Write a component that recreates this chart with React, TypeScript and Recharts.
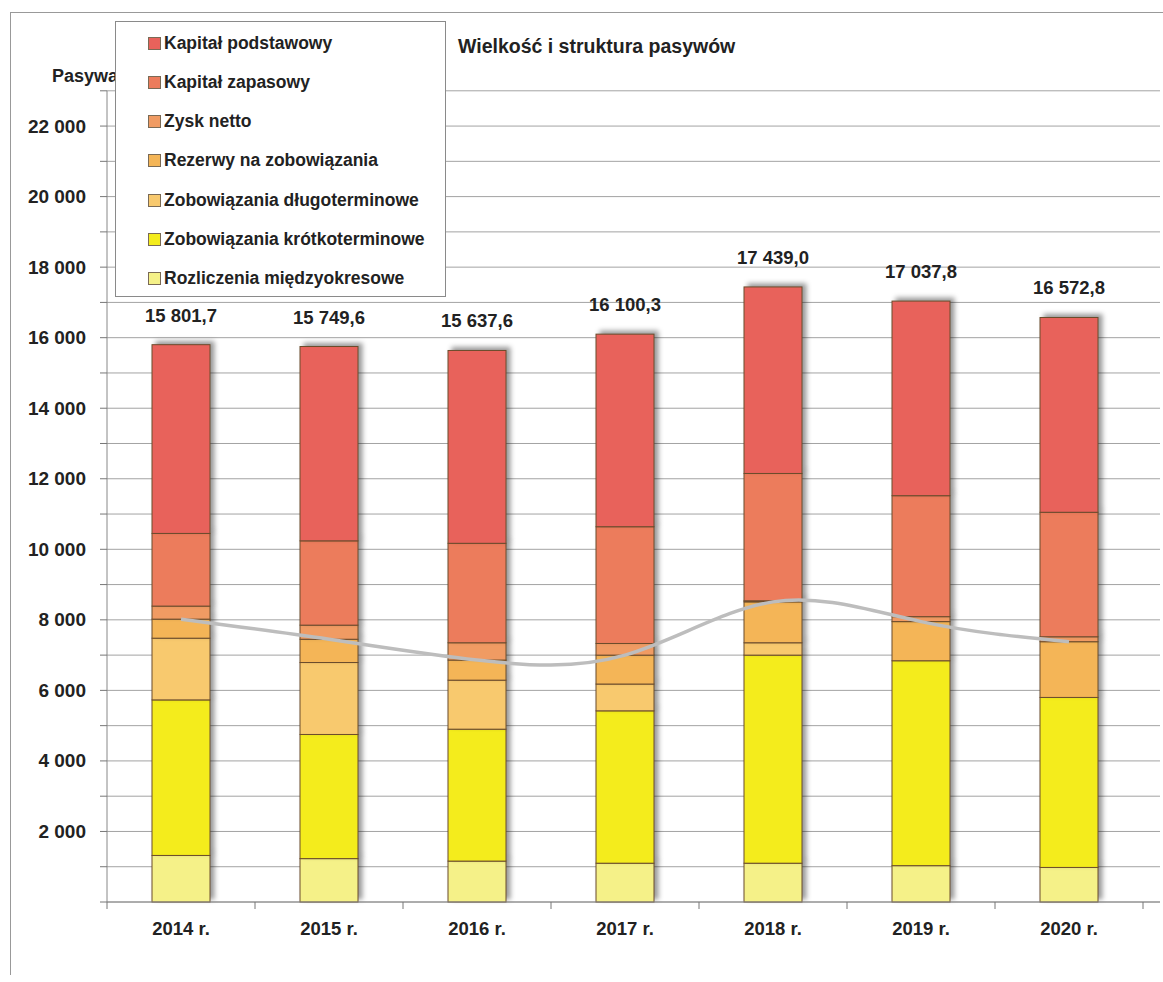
import React from 'react';
import { ComposedChart, Bar, Line, XAxis, YAxis, CartesianGrid, LabelList } from 'recharts';

const years = ['2014 r.', '2015 r.', '2016 r.', '2017 r.', '2018 r.', '2019 r.', '2020 r.'];

// series values
const rozliczenia = [1320, 1230, 1160, 1100, 1100, 1030, 980];
const zobKrotko = [4410, 3520, 3740, 4320, 5900, 5810, 4820];
const zobDlugo = [1750, 2040, 1390, 760, 350, 0, 0];
const rezerwy = [540, 660, 570, 820, 1160, 1110, 1580];
const zyskNetto = [370, 400, 490, 330, 30, 140, 140];
const kapitalZapasowy = [2060, 2390, 2820, 3310, 3610, 3430, 3530];
const kapitalPodstawowy = [5351.7, 5509.6, 5467.6, 5460.3, 5289.0, 5517.8, 5522.8];

const totals = [15801.7, 15749.6, 15637.6, 16100.3, 17439.0, 17037.8, 16572.8];
// gray smoothed line (zobowiązania i rezerwy razem)
const liabilitiesLine = [8020, 7450, 6860, 7000, 8510, 7950, 7380];

const yTicks = [0, 1000, 2000, 3000, 4000, 5000, 6000, 7000, 8000, 9000, 10000, 11000,
  12000, 13000, 14000, 15000, 16000, 17000, 18000, 19000, 20000, 21000, 22000, 23000];

const SERIES = [
  { key: 'rozliczenia', name: 'Rozliczenia międzyokresowe', color: '#f5f188', values: rozliczenia },
  { key: 'krotko', name: 'Zobowiązania krótkoterminowe', color: '#f4ec1c', values: zobKrotko },
  { key: 'dlugo', name: 'Zobowiązania długoterminowe', color: '#f8c96e', values: zobDlugo },
  { key: 'rezerwy', name: 'Rezerwy na zobowiązania', color: '#f4b557', values: rezerwy },
  { key: 'zysk', name: 'Zysk netto', color: '#f09b63', values: zyskNetto },
  { key: 'zapasowy', name: 'Kapitał zapasowy', color: '#ec7c5c', values: kapitalZapasowy },
  { key: 'podstawowy', name: 'Kapitał podstawowy', color: '#e8625b', values: kapitalPodstawowy },
];

const data = years.map((year, i) => {
  const row: Record<string, any> = { year, line: liabilitiesLine[i] };
  SERIES.forEach(s => { row[s.key] = s.values[i]; });
  return row;
});

const FONT = '"Liberation Sans", Arial, sans-serif';
const TEXT = '#222';
const HALF_BAND = 74;

const fmtThousands = (v: number) => String(v).replace(/\B(?=(\d{3})+(?!\d))/g, ' ');
const fmtTotal = (v: number) => {
  const [int, dec] = v.toFixed(1).split('.');
  return `${fmtThousands(Number(int))},${dec}`;
};

const ShadowRect = (props: any) => {
  const { x, y, width, height, fill } = props;
  if (!height || height <= 0) return null;
  return (
    <rect
      x={x}
      y={y}
      width={width}
      height={height}
      fill={fill}
      stroke="#6b4c2c"
      strokeWidth={1}
      style={{ filter: 'drop-shadow(4px -3px 2.5px rgba(0,0,0,0.4))' }}
    />
  );
};

const YTick = ({ x, y, payload }: any) => {
  const v = payload.value;
  const showLabel = v > 0 && v % 2000 === 0;
  return (
    <g>
      <line x1={x - 7} y1={y} x2={x} y2={y} stroke="#777" />
      {showLabel && (
        <text x={x - 21} y={y + 6.5} textAnchor="end" fontFamily={FONT} fontWeight="bold" fontSize={19} fill={TEXT}>
          {fmtThousands(v)}
        </text>
      )}
    </g>
  );
};

const XTick = ({ x, y, payload, index }: any) => (
  <g>
    <line x1={x - HALF_BAND} y1={y} x2={x - HALF_BAND} y2={y + 7} stroke="#777" />
    {index === years.length - 1 && (
      <line x1={x + HALF_BAND} y1={y} x2={x + HALF_BAND} y2={y + 7} stroke="#777" />
    )}
    <text x={x} y={y + 33} textAnchor="middle" fontFamily={FONT} fontWeight="bold" fontSize={18.5} fill={TEXT}>
      {payload.value}
    </text>
  </g>
);

const TotalLabel = (props: any) => {
  const { x, y, width, index } = props;
  return (
    <text x={x + width / 2} y={y - 23} textAnchor="middle" fontFamily={FONT} fontWeight="bold" fontSize={18.5} fill={TEXT}>
      {fmtTotal(totals[index])}
    </text>
  );
};

const LegendBox = () => (
  <div
    style={{
      position: 'absolute',
      left: 115,
      top: 21,
      width: 331,
      height: 276,
      boxSizing: 'border-box',
      background: '#fff',
      border: '1px solid #8a8a8a',
      fontFamily: FONT,
    }}
  >
    {[...SERIES].reverse().map((s, i) => (
      <div
        key={s.key}
        style={{
          position: 'absolute',
          left: 32,
          top: 11 + i * 39.3,
          height: 20,
          display: 'flex',
          alignItems: 'center',
          fontSize: 17.5,
          fontWeight: 'bold',
          color: TEXT,
          whiteSpace: 'nowrap',
        }}
      >
        <span
          style={{
            display: 'inline-block',
            width: 11,
            height: 11,
            background: s.color,
            border: '1px solid #7a6a55',
            marginRight: 3,
          }}
        />
        {s.name}
      </div>
    ))}
  </div>
);

export default function App() {
  return (
    <div style={{ position: 'absolute', left: 0, top: 0, width: 1163, height: 982, background: '#fff' }}>
      {/* frame */}
      <div
        style={{
          position: 'absolute',
          left: 10,
          top: 12,
          width: 1160,
          height: 962,
          borderTop: '1px solid #999',
          borderLeft: '1px solid #999',
        }}
      />
      <div
        style={{
          position: 'absolute',
          left: 52,
          top: 66,
          fontFamily: FONT,
          fontWeight: 'bold',
          fontSize: 18,
          color: TEXT,
        }}
      >
        Pasywa
      </div>
      <div
        style={{
          position: 'absolute',
          left: 458,
          top: 35,
          fontFamily: FONT,
          fontWeight: 'bold',
          fontSize: 19.5,
          color: TEXT,
        }}
      >
        Wielkość i struktura pasywów
      </div>
      <div style={{ position: 'absolute', left: 0, top: 0 }}>
        <ComposedChart
          width={1163}
          height={982}
          data={data}
          margin={{ top: 90.8, right: 3, bottom: 30, left: 0 }}
        >
          <CartesianGrid vertical={false} stroke="#a3a3a3" />
          <XAxis
            dataKey="year"
            axisLine={{ stroke: '#888' }}
            tickLine={false}
            tickSize={0}
            tickMargin={0}
            height={50}
            padding={{ left: 0, right: 17 }}
            tick={<XTick />}
            interval={0}
          />
          <YAxis
            domain={[0, 23000]}
            ticks={yTicks}
            width={107}
            axisLine={{ stroke: '#888' }}
            tickLine={false}
            tickSize={0}
            tickMargin={0}
            tick={<YTick />}
            interval={0}
          />
          {SERIES.map((s, i) => (
            <Bar
              key={s.key}
              dataKey={s.key}
              name={s.name}
              stackId="a"
              fill={s.color}
              barSize={58}
              shape={<ShadowRect />}
              isAnimationActive={false}
            >
              {i === SERIES.length - 1 && <LabelList dataKey={s.key} content={<TotalLabel />} />}
            </Bar>
          ))}
          <Line
            dataKey="line"
            type="natural"
            stroke="#bdbdbd"
            strokeWidth={3.5}
            dot={false}
            activeDot={false}
            legendType="none"
            isAnimationActive={false}
          />
        </ComposedChart>
      </div>
      <LegendBox />
    </div>
  );
}
